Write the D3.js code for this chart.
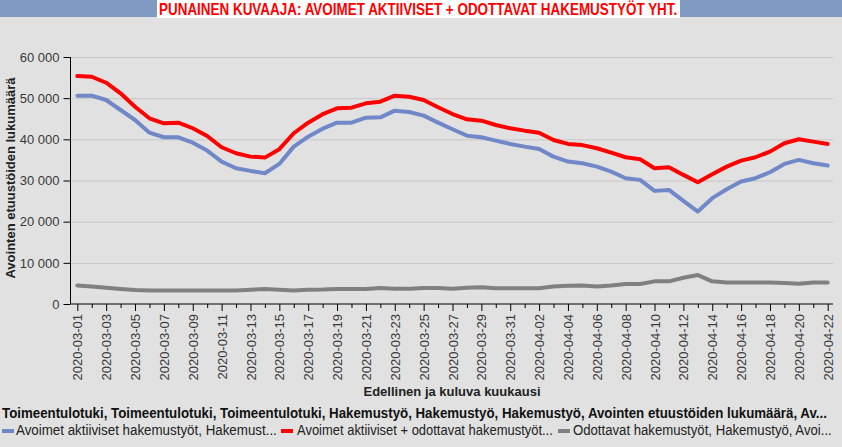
<!DOCTYPE html>
<html><head><meta charset="utf-8">
<script src="https://cdn.jsdelivr.net/npm/d3@7"></script>
<style>
html,body{margin:0;padding:0;background:#e1e1e1;}
svg{display:block;}
</style></head>
<body>
<svg id="c" width="842" height="447"></svg>
<script>
const dates = ["2020-03-01","2020-03-02","2020-03-03","2020-03-04","2020-03-05","2020-03-06","2020-03-07","2020-03-08","2020-03-09","2020-03-10",
"2020-03-11","2020-03-12","2020-03-13","2020-03-14","2020-03-15","2020-03-16","2020-03-17","2020-03-18","2020-03-19","2020-03-20",
"2020-03-21","2020-03-22","2020-03-23","2020-03-24","2020-03-25","2020-03-26","2020-03-27","2020-03-28","2020-03-29","2020-03-30",
"2020-03-31","2020-04-01","2020-04-02","2020-04-03","2020-04-04","2020-04-05","2020-04-06","2020-04-07","2020-04-08","2020-04-09",
"2020-04-10","2020-04-11","2020-04-12","2020-04-13","2020-04-14","2020-04-15","2020-04-16","2020-04-17","2020-04-18","2020-04-19",
"2020-04-20","2020-04-21","2020-04-22"];
const activeOpen = [50600,50600,49550,47130,44700,41620,40500,40500,39200,37260,
34590,32980,32330,31770,34030,38230,40650,42600,44050,44050,
45260,45350,46960,46640,45750,44050,42440,40890,40500,39680,
38880,38230,37670,35800,34590,34200,33370,32160,30560,30150,
27480,27720,25050,22460,25710,27880,29740,30560,32010,34030,
35000,34200,33620];
const activePlusPending = [55370,55200,53750,51180,47930,45110,43900,44050,42690,40820,
38080,36620,35800,35560,37600,41480,44050,46100,47540,47700,
48750,49140,50600,50350,49550,47780,46150,44870,44540,43490,
42690,42110,41620,39850,38880,38600,37840,36770,35650,35170,
32990,33230,31360,29590,31530,33370,34830,35650,37010,39050,
40020,39440,38880];
const pending = [4510,4270,3950,3640,3400,3300,3300,3300,3300,3300,
3300,3300,3470,3640,3470,3300,3470,3500,3640,3640,
3640,3880,3720,3720,3880,3880,3720,3960,4040,3800,
3800,3800,3800,4270,4430,4480,4270,4510,4850,4850,
5500,5500,6380,7030,5500,5240,5240,5240,5240,5090,
4930,5240,5240];
const yTicks = [0,10000,20000,30000,40000,50000,60000];
const seriesNames = ["Avoimet aktiiviset hakemustyöt, Hakemust...","Avoimet aktiiviset + odottavat hakemustyöt...","Odottavat hakemustyöt, Hakemustyö, Avoi..."];
const seriesColors = ["#7088c8","#ff0000","#808080"];
const titleText = "PUNAINEN KUVAAJA: AVOIMET AKTIIVISET + ODOTTAVAT HAKEMUSTYÖT YHT.";
const legendTitle = "Toimeentulotuki, Toimeentulotuki, Toimeentulotuki, Hakemustyö, Hakemustyö, Hakemustyö, Avointen etuustöiden lukumäärä, Av...";
const yTitle = "Avointen etuustöiden lukumäärä";
const xTitle = "Edellinen ja kuluva kuukausi";

const svg = d3.select("#c");
const sans = "'Liberation Sans',Arial,sans-serif";

// draw text then squeeze horizontally to a target width
function squeezed(parent, str, x0, yb, width, size, weight, fill){
  const g = parent.append("g");
  const t = g.append("text").attr("x",0).attr("y",0).attr("font-family",sans)
    .attr("font-size",size).attr("font-weight",weight).attr("fill",fill).text(str);
  const w = t.node().getComputedTextLength();
  g.attr("transform",`translate(${x0},${yb}) scale(${width/w},1)`);
  return g;
}

// title band
svg.append("rect").attr("x",0).attr("y",0).attr("width",842).attr("height",17).attr("fill","#809ac3");
svg.append("rect").attr("x",157).attr("y",0).attr("width",523).attr("height",18).attr("fill","#ffffff");
squeezed(svg, titleText, 159, 14.5, 519, 16, "bold", "#ff0000");

const x = d3.scalePoint().domain(dates).range([77.3,827.7]);
const y = d3.scaleLinear().domain([0,60000]).range([304,57]);
const xL = 70.5, xR = 833;

// grid
svg.append("g").selectAll("line").data(yTicks.filter(d=>d>0)).join("line")
  .attr("x1",xL).attr("x2",xR).attr("y1",d=>y(d)+0.5).attr("y2",d=>y(d)+0.5)
  .attr("stroke","#c6c6c6").attr("stroke-width",1);

// y axis
const ya = svg.append("g").attr("transform",`translate(${xL},0)`)
  .call(d3.axisLeft(y).tickValues(yTicks).tickSize(7).tickPadding(4).tickFormat(d=>d3.format(",")(d).replace(/,/g," ")));
ya.select(".domain").attr("stroke","#000").attr("d",`M0,${y(60000)}V${y(0)}`);
ya.selectAll(".tick line").attr("stroke","#000");
ya.selectAll("text").attr("font-family",sans).attr("font-size",13).attr("fill","#3a3a3a");

// x axis
const xa = svg.append("g").attr("transform",`translate(0,${y(0)})`)
  .call(d3.axisBottom(x).tickSize(7).tickFormat((d,i)=> i%2===0 ? d : ""));
xa.select(".domain").attr("stroke","#000").attr("d",`M${xL},0H${xR}`);
xa.selectAll(".tick line").attr("stroke","#000").attr("y2",(d,i)=> i%2===0 ? 7 : 4);
xa.selectAll(".tick text").attr("font-family",sans).attr("font-size",13).attr("fill","#3a3a3a")
  .attr("transform","rotate(-90)").attr("text-anchor","end").attr("x",-10).attr("y",0).attr("dy","0.35em");

// axis titles
svg.append("text").attr("transform","translate(15,178) rotate(-90)").attr("text-anchor","middle")
  .attr("font-family",sans).attr("font-weight","bold").attr("font-size",13).attr("fill","#222").text(yTitle);
svg.append("text").attr("x",452).attr("y",396).attr("text-anchor","middle")
  .attr("font-family",sans).attr("font-weight","bold").attr("font-size",13).attr("fill","#222").text(xTitle);

// lines
const line = d3.line().x((d,i)=>x(dates[i])).y(d=>y(d));
[[pending,seriesColors[2]],[activeOpen,seriesColors[0]],[activePlusPending,seriesColors[1]]].forEach(([s,col])=>{
  svg.append("path").datum(s).attr("d",line).attr("fill","none").attr("stroke",col)
    .attr("stroke-width",4).attr("stroke-linejoin","round").attr("stroke-linecap","round");
});

// legend
squeezed(svg, legendTitle, 2, 418, 826, 14, "bold", "#111");
const legX = [[2,16,277],[281,297,553],[558,573,832]];
seriesNames.forEach((n,i)=>{
  svg.append("rect").attr("x",legX[i][0]).attr("y",429).attr("width",12).attr("height",4).attr("fill",seriesColors[i]);
  squeezed(svg, n, legX[i][1], 435, legX[i][2]-legX[i][1], 14, "normal", "#222");
});
</script>
</body></html>
